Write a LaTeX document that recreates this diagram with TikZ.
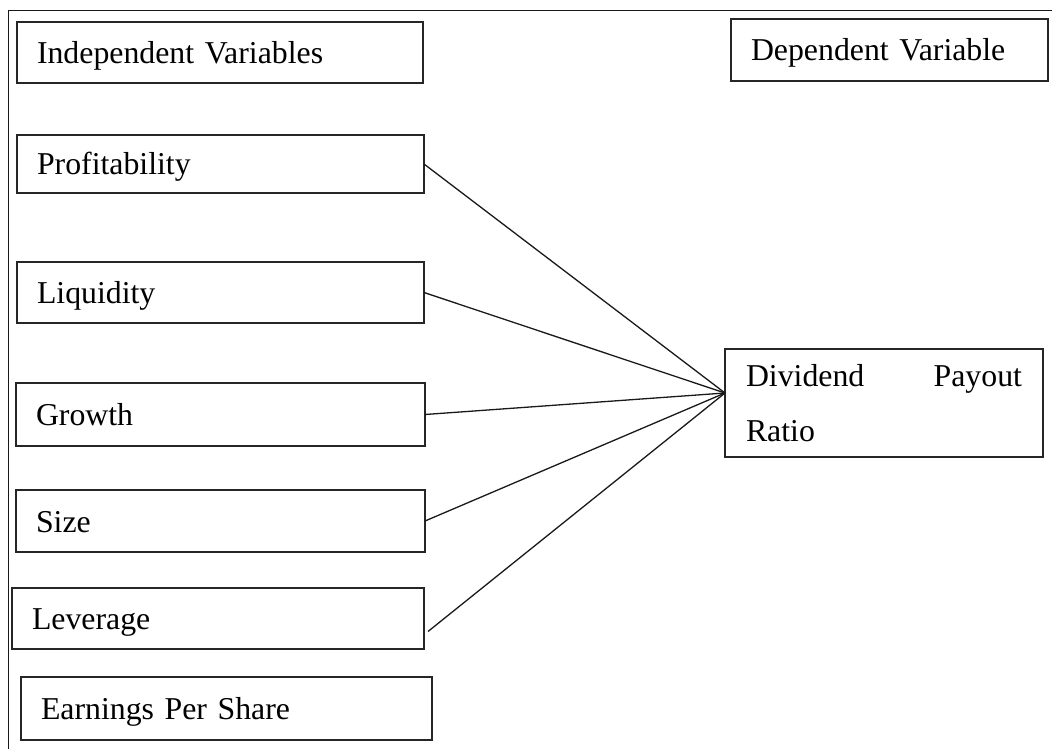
\documentclass[tikz,border=0pt]{standalone}
\usepackage{fontspec}
\setmainfont{Liberation Serif}
\begin{document}
\begin{tikzpicture}[x=1pt,y=-1pt,
  box/.style={draw=black!85, line width=1.6pt, inner xsep=20pt, inner ysep=0pt,
    align=left, anchor=north west, outer sep=0pt,
    font=\fontsize{31.8}{55}\selectfont},
  onebox/.style={box, text height=24pt, text depth=2pt},
  link/.style={draw=black!90, line width=1.3pt},
  frame/.style={draw=black!90, line width=1pt}]
\useasboundingbox (0,0) rectangle (1052,749);
\draw[frame] (8,749) -- (8,11) -- (1052,11);

\node[onebox, text width=366pt, minimum height=61pt] (indep) at (17,22) {Independent Variables};
\node[onebox, text width=277pt, minimum height=62pt] (dep) at (731,19) {Dependent Variable};
\node[onebox, text width=367pt, minimum height=58pt] (prof) at (17,135) {Profitability};
\node[onebox, text width=367pt, minimum height=61pt] (liq) at (17,262) {Liquidity};
\node[onebox, text width=369pt, minimum height=63pt] (grow) at (16,383) {Growth};
\node[onebox, text width=369pt, minimum height=62pt] (size) at (16,490) {Size};
\node[onebox, text width=372pt, minimum height=61pt] (lev) at (12,588) {Leverage};
\node[onebox, text width=371pt, minimum height=63pt] (eps) at (21,677) {Earnings Per Share};
\node[box, inner xsep=21pt, text width=276pt, minimum height=108pt] (div) at (725,349) {Dividend\hfill Payout\\Ratio};

\coordinate (hub) at ([yshift=10pt]div.west);
\draw[link] (prof.east) -- (hub);
\draw[link] (liq.east) -- (hub);
\draw[link] (grow.east) -- (hub);
\draw[link] (size.east) -- (hub);
\draw[link] ([shift={(4pt,-13pt)}]lev.east) -- (hub);
\end{tikzpicture}
\end{document}
